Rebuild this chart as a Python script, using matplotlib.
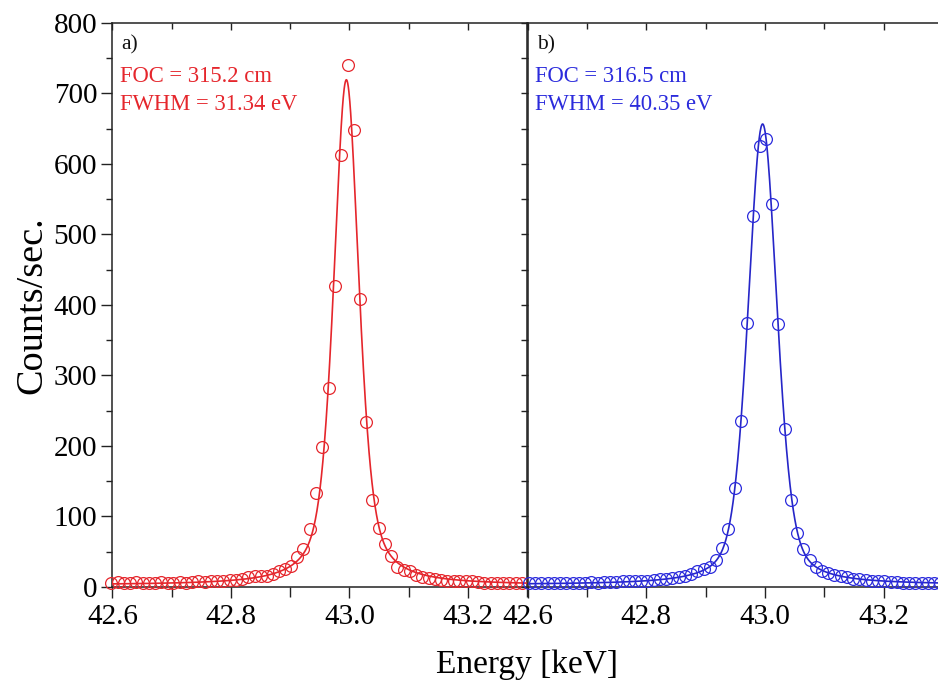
import numpy as np
import matplotlib
matplotlib.use("Agg")
import matplotlib.pyplot as plt
from matplotlib.ticker import MultipleLocator, FormatStrFormatter

# ---- measured spectra -------------------------------------------------------
energy_a = [42.598, 42.609, 42.619, 42.630, 42.640, 42.651, 42.661, 42.672, 42.682,
            42.693, 42.703, 42.714, 42.724, 42.735, 42.745, 42.756, 42.766, 42.777,
            42.787, 42.798, 42.808, 42.819, 42.829, 42.840, 42.850, 42.861, 42.871,
            42.881, 42.891, 42.901, 42.912, 42.922, 42.933, 42.943, 42.954, 42.965,
            42.976, 42.986, 42.997, 43.008, 43.018, 43.029, 43.039, 43.050, 43.060,
            43.071, 43.081, 43.092, 43.102, 43.113, 43.123, 43.134, 43.144, 43.155,
            43.165, 43.176, 43.186, 43.197, 43.207, 43.218, 43.228, 43.239, 43.249,
            43.260, 43.270, 43.281, 43.291]
counts_a = [6, 7, 5, 6, 7, 5, 6, 6, 7,
            6, 6, 7, 6, 7, 8, 7, 8, 8,
            9, 10, 10, 11, 14, 15, 16, 15, 18,
            22, 25, 30, 42, 54, 82, 133, 198, 282,
            427, 612, 740, 648, 408, 234, 123, 83, 61,
            44, 29, 24, 22, 17, 14, 13, 12, 10,
            9, 9, 8, 8, 9, 7, 6, 6, 6,
            6, 5, 6, 5]

energy_b = [42.6025, 42.6130, 42.6235, 42.6340, 42.6445, 42.6550, 42.6655, 42.6760,
            42.6865, 42.6970, 42.7075, 42.7180, 42.7285, 42.7390, 42.7495, 42.7600,
            42.7705, 42.7810, 42.7915, 42.8020, 42.8125, 42.8230, 42.8335, 42.8440,
            42.8545, 42.8650, 42.8755, 42.8860, 42.8965, 42.9070, 42.9175, 42.9280,
            42.9385, 42.9490, 42.9595, 42.9700, 42.9805, 42.9910, 43.0015, 43.0120,
            43.0225, 43.0330, 43.0435, 43.0540, 43.0645, 43.0750, 43.0855, 43.0960,
            43.1065, 43.1170, 43.1275, 43.1380, 43.1485, 43.1590, 43.1695, 43.1800,
            43.1905, 43.2010, 43.2115, 43.2220, 43.2325, 43.2430, 43.2535, 43.2640,
            43.2745, 43.2850, 43.2955]
counts_b = [5, 5, 5, 6, 5, 6, 6, 5,
            6, 6, 7, 6, 7, 7, 7, 8,
            8, 8, 9, 9, 10, 11, 12, 13,
            14, 16, 19, 22, 25, 29, 38, 55,
            82, 141, 236, 375, 526, 626, 636, 543,
            373, 224, 123, 77, 54, 38, 28, 23,
            20, 17, 15, 14, 12, 11, 10, 9,
            8, 8, 7, 7, 6, 6, 6, 5,
            5, 5, 5]

labels_a = ["a)", "FOC = 315.2 cm", "FWHM = 31.34 eV"]
labels_b = ["b)", "FOC = 316.5 cm", "FWHM = 40.35 eV"]

x_ticks = [42.6, 42.8, 43.0, 43.2]
y_ticks = [0, 100, 200, 300, 400, 500, 600, 700, 800]

RED = "#e5262c"
BLUE = "#2b2bdc"
LINE_BLUE = "#2626c8"


def pseudo_voigt(x, c, w, eta):
    g = np.exp(-4 * np.log(2) * ((x - c) / w) ** 2)
    l = 1.0 / (1.0 + 4 * ((x - c) / w) ** 2)
    return eta * l + (1 - eta) * g


def fit_peak(x, y):
    """Poisson-weighted least-squares pseudo-Voigt + constant background
    (grid over the shape, closed-form amplitude and offset)."""
    x = np.asarray(x, float)
    y = np.asarray(y, float)
    wt = 1.0 / np.maximum(y, 1.0)
    c0 = x[np.argmax(y)]
    cs = np.linspace(c0 - 0.012, c0 + 0.012, 49)[:, None, None, None]
    ws = np.linspace(0.02, 0.09, 71)[None, :, None, None]
    es = np.linspace(0, 1, 21)[None, None, :, None]
    s = pseudo_voigt(x[None, None, None, :], cs, ws, es)
    W = wt.sum()
    sm = (s * wt).sum(-1, keepdims=True) / W
    ym = (y * wt).sum() / W
    amp = ((s - sm) * (y - ym) * wt).sum(-1, keepdims=True) / (((s - sm) ** 2) * wt).sum(-1, keepdims=True)
    off = ym - amp * sm
    sse = (((amp * s + off - y) ** 2) * wt).sum(-1)
    i, j, k = np.unravel_index(np.argmin(sse), sse.shape)
    return cs[i, 0, 0, 0], ws[0, j, 0, 0], es[0, 0, k, 0], amp[i, j, k, 0], off[i, j, k, 0]


plt.rcParams["font.family"] = ["Liberation Serif", "DejaVu Serif"]

fig = plt.figure(figsize=(9.38, 6.85), dpi=100)
ax_a = fig.add_axes([0.1199, 0.1431, 0.4419, 0.8234])
ax_b = fig.add_axes([0.5624, 0.1431, 0.4430, 0.8234])

panels = [
    (ax_a, energy_a, counts_a, RED, RED, labels_a),
    (ax_b, energy_b, counts_b, BLUE, LINE_BLUE, labels_b),
]

for ax, ex, cy, mcol, lcol, labels in panels:
    c, w, eta, amp, off = fit_peak(ex, cy)
    xf = np.linspace(42.6, 43.3, 1400)
    ax.plot(xf, amp * pseudo_voigt(xf, c, w, eta) + off, color=lcol, lw=1.2, zorder=3)
    ax.plot(ex, cy, "o", ms=8.5, mfc="none", mec=mcol, mew=0.9, zorder=4, clip_on=False)

    ax.set_xlim(42.6, 43.3)
    ax.set_ylim(0, 800)
    ax.set_xticks(x_ticks)
    ax.xaxis.set_major_formatter(FormatStrFormatter("%.1f"))
    ax.xaxis.set_minor_locator(MultipleLocator(0.1))
    ax.set_yticks(y_ticks)
    ax.yaxis.set_minor_locator(MultipleLocator(50))
    for sp in ax.spines.values():
        sp.set_linewidth(1.1)
        sp.set_color("#222222")

    ax.tick_params(axis="x", which="both", bottom=True, top=False, direction="out",
                   labelsize=21, pad=4, width=1.0, color="#222222")
    ax.tick_params(axis="x", which="major", length=8)
    ax.tick_params(axis="x", which="minor", length=7)

    # inward ticks along the top edge
    top = ax.secondary_xaxis("top")
    top.set_xticks(x_ticks)
    top.xaxis.set_minor_locator(MultipleLocator(0.1))
    top.tick_params(which="both", direction="in", labeltop=False, width=1.0, color="#222222")
    top.tick_params(which="major", length=5)
    top.tick_params(which="minor", length=4)
    top.spines["top"].set_visible(False)

    ax.text(0.022, 0.961, labels[0], transform=ax.transAxes, fontsize=15.5,
            color="#111111", ha="left", va="center")
    ax.text(0.018, 0.905, labels[1], transform=ax.transAxes, fontsize=16.3,
            color=mcol, ha="left", va="center")
    ax.text(0.018, 0.855, labels[2], transform=ax.transAxes, fontsize=16.3,
            color=mcol, ha="left", va="center")

ax_a.tick_params(axis="y", which="both", left=True, right=False, direction="out",
                 labelsize=21, pad=3, width=1.0, color="#222222")
ax_a.tick_params(axis="y", which="major", length=8)
ax_a.tick_params(axis="y", which="minor", length=4)

ax_b.tick_params(axis="y", which="both", left=True, right=True, labelleft=False,
                 direction="in", width=1.0, color="#222222")
ax_b.tick_params(axis="y", which="both", left=True, direction="out")
ax_b.tick_params(axis="y", which="major", length=5)
ax_b.tick_params(axis="y", which="minor", length=5)

ax_a.set_ylabel("Counts/sec.", fontsize=27.5, labelpad=3)
fig.text(0.562, 0.030, "Energy [keV]", fontsize=24, ha="center", va="center")

fig.savefig("out.png", dpi=100)
